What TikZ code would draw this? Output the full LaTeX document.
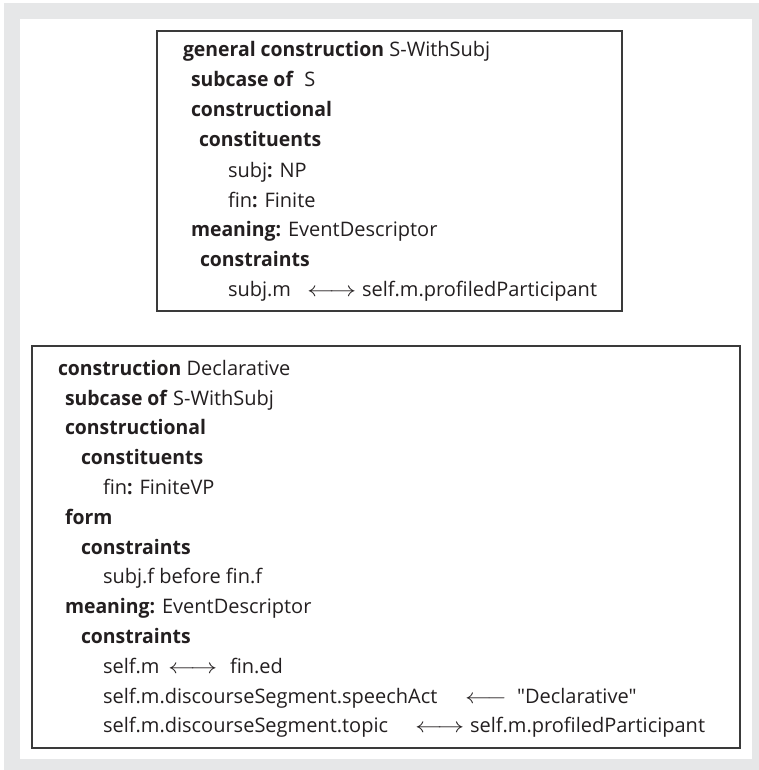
\documentclass[tikz,border=0pt]{standalone}
\usepackage{fontspec}
\usepackage{graphicx}
\setmainfont{Open Sans}[Ligatures=TeXOff,BoldFeatures={FakeStretch=0.97}]
\definecolor{panelgray}{HTML}{E6E7E8}
\definecolor{ink}{HTML}{231F20}
\definecolor{frame}{HTML}{3A3A3A}
\newcommand{\lra}{\scalebox{1.3}[1]{$\longleftrightarrow$}}
\newcommand{\lla}{\scalebox{1.25}[1]{$\longleftarrow$}}
\begin{document}
\begin{tikzpicture}[x=1pt,y=-1pt,
  line/.style={anchor=base west,inner sep=0pt,outer sep=0pt,text=ink,font=\fontsize{20}{24}\selectfont},
  cbox/.style={draw=frame,line width=1.2pt}]
\useasboundingbox (0,0) rectangle (759,770);
% backdrop
\fill[panelgray] (4,3) rectangle (759,770);
\fill[white] (20,19) rectangle (752,759);
% frames
\draw[cbox] (157,31) rectangle (622,311);
\draw[cbox] (32,346) rectangle (740,748);
% general construction S-WithSubj
\node[line] (a1) at (183,57) {\textbf{general construction} S-WithSubj};
\node[line] (a2) at (191,87) {\textbf{subcase of}\ \ S};
\node[line] (a3) at (191,117) {\textbf{constructional}};
\node[line] (a4) at (199,147) {\textbf{constituents}};
\node[line] (a5) at (228,177) {subj\textbf{:} NP};
\node[line] (a6) at (228,207) {fin\textbf{:} Finite};
\node[line] (a7) at (191,236) {\textbf{meaning:} EventDescriptor};
\node[line] (a8) at (200,266) {\textbf{constraints}};
\node[line] (a9) at (228,296) {subj.m};
\node[line] (a9r) at (307,296) {\lra};
\node[line] (a9s) at (362,296) {self.m.profiledParticipant};
% construction Declarative
\node[line] (b1) at (58,375) {\textbf{construction} Declarative};
\node[line] (b2) at (65,405) {\textbf{subcase of} S-WithSubj};
\node[line] (b3) at (65,434) {\textbf{constructional}};
\node[line] (b4) at (81,464) {\textbf{constituents}};
\node[line] (b5) at (103,494) {fin\textbf{:} FiniteVP};
\node[line] (b6) at (65,524) {\textbf{form}};
\node[line] (b7) at (81,554) {\textbf{constraints}};
\node[line] (b8) at (103,583) {subj.f before fin.f};
\node[line] (b9) at (65,613) {\textbf{meaning:} EventDescriptor};
\node[line] (b10) at (81,643) {\textbf{constraints}};
\node[line] (b11) at (103,673) {self.m};
\node[line] (b11r) at (168,673) {\lra};
\node[line] (b11s) at (230,673) {fin.ed};
\node[line] (b12) at (103,703) {self.m.discourseSegment.speechAct};
\node[line] (b12r) at (465,703) {\lla};
\node[line] (b12s) at (517,703) {"Declarative"};
\node[line] (b13) at (103,732) {self.m.discourseSegment.topic};
\node[line] (b13r) at (415,732) {\lra};
\node[line] (b13s) at (470,732) {self.m.profiledParticipant};
\end{tikzpicture}
\end{document}
